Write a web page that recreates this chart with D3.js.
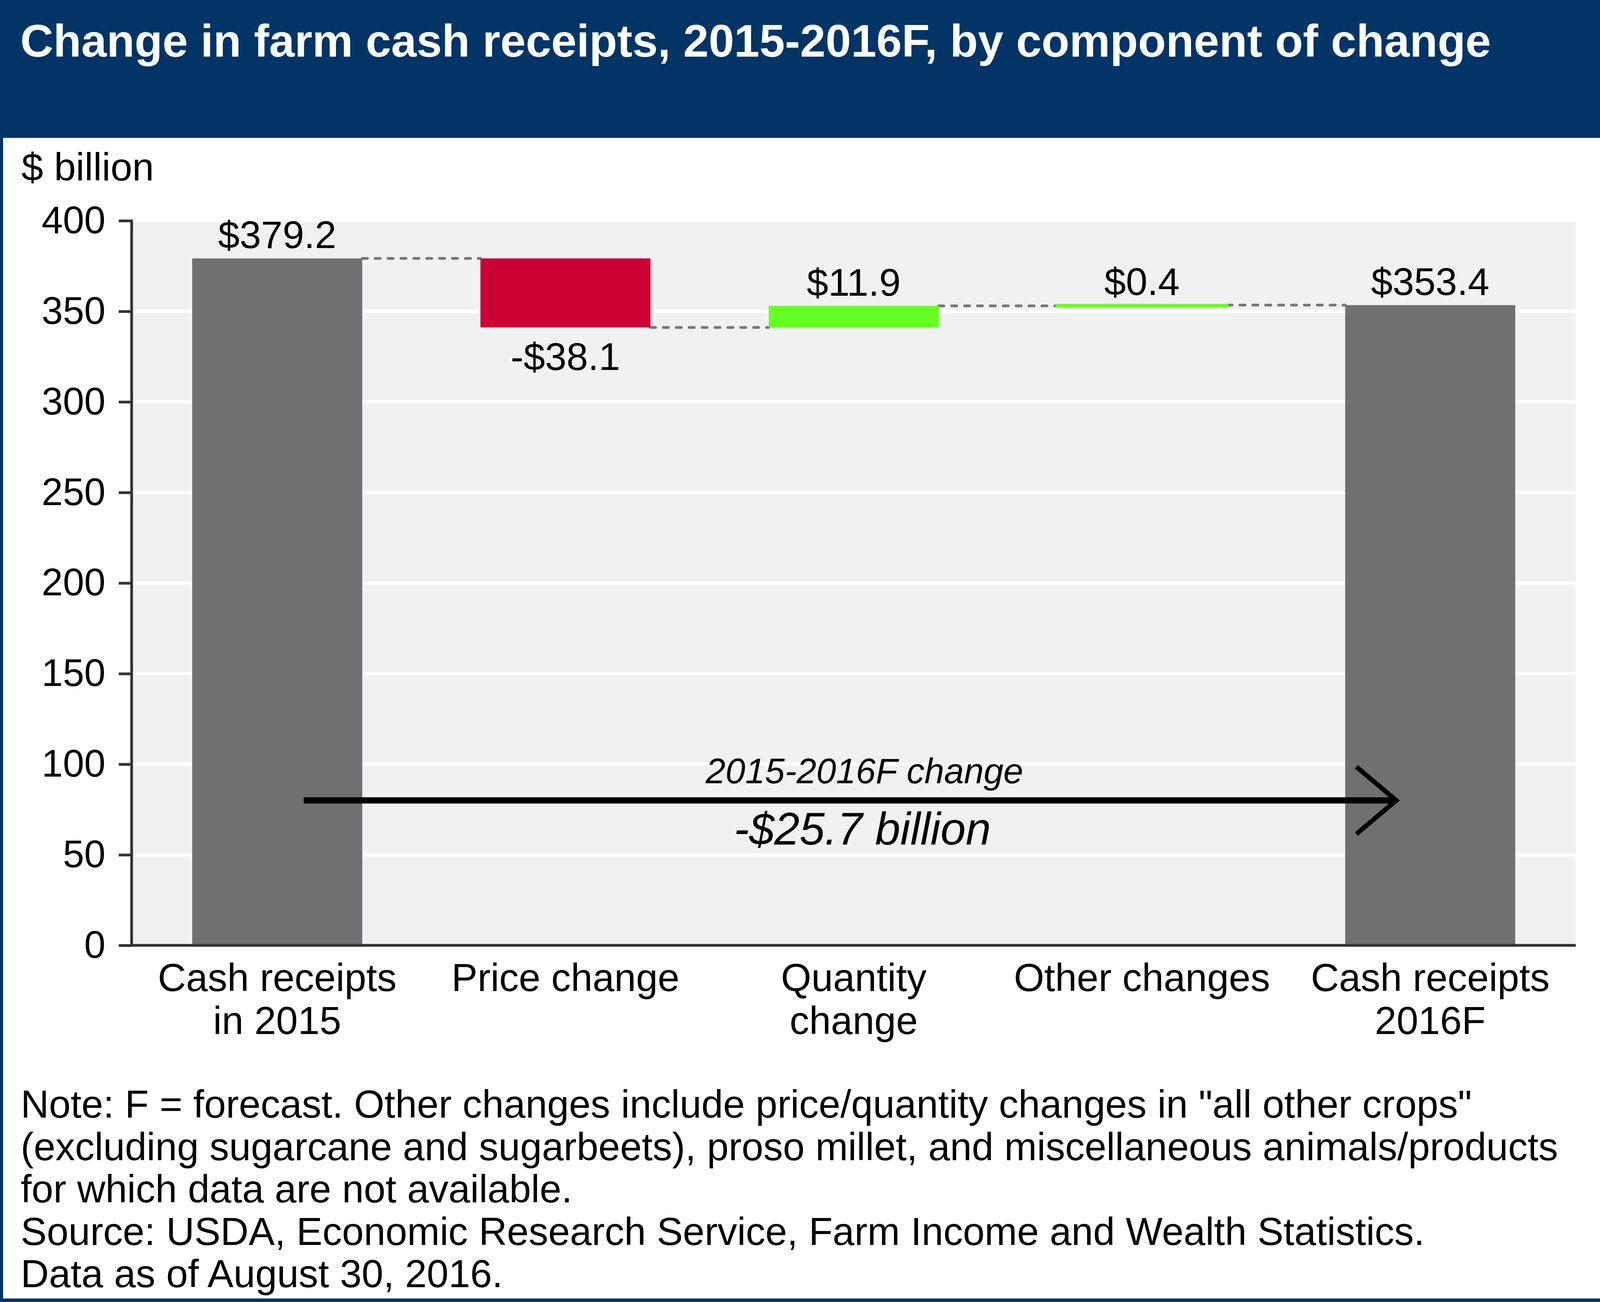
<!DOCTYPE html>
<html>
<head>
<meta charset="utf-8">
<script src="https://cdn.jsdelivr.net/npm/d3@7"></script>
<style>
  html, body { margin: 0; padding: 0; background: #fff; overflow: hidden; }
  svg { display: block; }
  text { font-family: "Liberation Sans", Arial, sans-serif; }
</style>
</head>
<body>
<svg id="vis" width="4171" height="3333"></svg>
<script>
// Datos del gráfico
const categorias = ["Cash receipts in 2015", "Price change", "Quantity change", "Other changes", "Cash receipts 2016F"];
const lineas_categoria = [["Cash receipts", "in 2015"], ["Price change"], ["Quantity", "change"], ["Other changes"], ["Cash receipts", "2016F"]];
const valores = [379.2, -38.1, 11.9, 0.4, 353.4];
const tipos = ["total", "cambio", "cambio", "cambio", "total"];
const etiquetas = ["$379.2", "-$38.1", "$11.9", "$0.4", "$353.4"];
const ticks_y = [0, 50, 100, 150, 200, 250, 300, 350, 400];
const notas = [
  "Note: F = forecast. Other changes include price/quantity changes in \"all other crops\"",
  "(excluding sugarcane and sugarbeets), proso millet, and miscellaneous animals/products",
  "for which data are not available.",
  "Source: USDA, Economic Research Service, Farm Income and Wealth Statistics.",
  "Data as of August 30, 2016."
];
const cambio_total = -25.7;
const altura_flecha = 80;

const SVG = d3.select("#vis");
const W = 4171, H = 3333;
const AZUL = "#023466";

// Calcular inicio y fin de cada barra (cascada)
let acumulado = 0;
const barras = valores.map((v, i) => {
  let y0, y1;
  if (tipos[i] === "total") {
    y0 = 0; y1 = v; acumulado = v;
  } else {
    y0 = acumulado; y1 = acumulado + v; acumulado = y1;
  }
  return { cat: categorias[i], v, y0, y1, tipo: tipos[i], etiqueta: etiquetas[i], lineas: lineas_categoria[i] };
});

// Marco y encabezado
SVG.append("rect").attr("x", 0).attr("y", 0).attr("width", W).attr("height", H).attr("fill", AZUL);
SVG.append("rect").attr("x", 8).attr("y", 353).attr("width", W - 16).attr("height", H - 353 - 9).attr("fill", "#fff");
SVG.append("text")
  .attr("x", 52).attr("y", 145)
  .attr("fill", "#fff").attr("font-weight", "bold").attr("font-size", 117)
  .text("Change in farm cash receipts, 2015-2016F, by component of change");

SVG.append("text")
  .attr("x", 55).attr("y", 462)
  .attr("font-size", 100)
  .text("$ billion");

// Escalas
const x = d3.scaleBand().domain(categorias).range([337, 4034]).paddingInner(0.41).paddingOuter(0.21);
const y = d3.scaleLinear().domain([0, 400]).range([2420, 565]);

// Fondo del área del gráfico
SVG.append("rect")
  .attr("x", 337).attr("y", y(400))
  .attr("width", 4034 - 337).attr("height", y(0) - y(400))
  .attr("fill", "#f1f1f1");

// Líneas de grilla
SVG.append("g").selectAll("line")
  .data(ticks_y.filter(t => t > 0))
  .join("line")
  .attr("x1", 337).attr("x2", 4034)
  .attr("y1", d => y(d)).attr("y2", d => y(d))
  .attr("stroke", "#fff").attr("stroke-width", 8);

// Conectores punteados
const conectores = barras.slice(0, -1).map((b, i) => ({ desde: b.cat, hasta: barras[i + 1].cat, nivel: b.y1 }));
SVG.append("g").selectAll("line")
  .data(conectores)
  .join("line")
  .attr("x1", d => x(d.desde) + x.bandwidth())
  .attr("x2", d => x(d.hasta))
  .attr("y1", d => y(d.nivel)).attr("y2", d => y(d.nivel))
  .attr("stroke", "#777").attr("stroke-width", 7)
  .attr("stroke-linecap", "round")
  .attr("stroke-dasharray", "13 20");

// Barras
const color = d => d.tipo === "total" ? "#6f7072" : (d.v < 0 ? "#cc0033" : "#66ff22");
SVG.append("g").selectAll("rect")
  .data(barras)
  .join("rect")
  .attr("x", d => x(d.cat))
  .attr("width", x.bandwidth())
  .attr("y", d => y(Math.max(d.y0, d.y1)))
  .attr("height", d => Math.abs(y(d.y0) - y(d.y1)))
  .attr("fill", color)
  .attr("stroke", d => d.tipo === "total" ? "none" : color(d))
  .attr("stroke-width", d => Math.abs(d.v) < 2 ? 7 : 0);

// Etiquetas de valor
SVG.append("g").selectAll("text")
  .data(barras)
  .join("text")
  .attr("x", d => x(d.cat) + x.bandwidth() / 2)
  .attr("y", d => d.v < 0 ? y(Math.min(d.y0, d.y1)) + 109 : y(Math.max(d.y0, d.y1)) - 26)
  .attr("text-anchor", "middle")
  .attr("font-size", 99)
  .text(d => d.etiqueta);

// Ejes
const ejeY = SVG.append("g")
  .attr("transform", "translate(337,0)")
  .call(d3.axisLeft(y).tickValues(ticks_y).tickSize(33).tickPadding(34));
ejeY.select(".domain").attr("stroke", "#333").attr("stroke-width", 7).attr("d", `M0,${y(400) - 3}V${y(0)}`);
ejeY.selectAll(".tick line").attr("stroke", "#333").attr("stroke-width", 7);
ejeY.selectAll(".tick text").attr("font-size", 98).attr("fill", "#000")
  .attr("font-family", "Liberation Sans, Arial, sans-serif");

SVG.append("line")
  .attr("x1", 333).attr("x2", 4034)
  .attr("y1", y(0)).attr("y2", y(0))
  .attr("stroke", "#333").attr("stroke-width", 7);

// Etiquetas de categorías (multilínea)
const cat = SVG.append("g").selectAll("text")
  .data(barras)
  .join("text")
  .attr("x", d => x(d.cat) + x.bandwidth() / 2)
  .attr("y", 2537)
  .attr("text-anchor", "middle")
  .attr("font-size", 100);
cat.selectAll("tspan")
  .data(d => d.lineas.map(l => ({ l, cx: x(d.cat) + x.bandwidth() / 2 })))
  .join("tspan")
  .attr("x", d => d.cx)
  .attr("dy", (d, i) => i === 0 ? 0 : 110)
  .text(d => d.l);

// Flecha de cambio total
const xIni = x(categorias[0]) + x.bandwidth() / 2 + 68;
const xFin = x(categorias[4]) + x.bandwidth() / 2 - 87;
const yF = y(altura_flecha);
SVG.append("line")
  .attr("x1", xIni).attr("x2", xFin)
  .attr("y1", yF).attr("y2", yF)
  .attr("stroke", "#000").attr("stroke-width", 16);
SVG.append("path")
  .attr("d", `M${xFin - 102},${yF - 86}L${xFin},${yF}L${xFin - 102},${yF + 86}`)
  .attr("fill", "none").attr("stroke", "#000").attr("stroke-width", 12);

const xMedio = (xIni + xFin) / 2 + 37;
SVG.append("text")
  .attr("x", xMedio).attr("y", 2005)
  .attr("text-anchor", "middle").attr("font-style", "italic").attr("font-size", 91)
  .text("2015-2016F change");
SVG.append("text")
  .attr("x", xMedio - 5).attr("y", 2162)
  .attr("text-anchor", "middle").attr("font-style", "italic").attr("font-size", 116)
  .text(`-$${Math.abs(cambio_total).toFixed(1)} billion`);

// Notas
SVG.append("g").selectAll("text")
  .data(notas)
  .join("text")
  .attr("x", 53)
  .attr("y", (d, i) => 2861 + i * 108.5)
  .attr("font-size", 100)
  .text(d => d);
</script>
</body>
</html>
